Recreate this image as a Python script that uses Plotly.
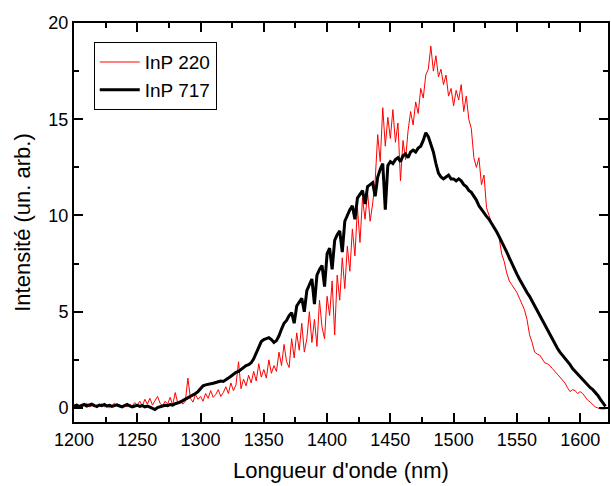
import plotly.graph_objects as go

# Wavelength grid (nm), 2 nm step from 1200 to 1620
wavelength = list(range(1200, 1622, 2))

# InP 220 (red) intensities
inp220 = [
    0.05, 0.20, 0.10, 0.00, 0.15, 0.25, 0.05, 0.10, 0.20, 0.00,
    0.10, 0.22, 0.05, 0.15, 0.00, 0.12, 0.25, 0.08, 0.18, 0.02,
    0.12, 0.05, 0.20, 0.10, 0.28, 0.15, 0.35, 0.10, 0.45, 0.20,
    0.50, 0.15, 0.40, 0.60, 0.25, 0.10, 0.35, 0.20, 0.55, 0.15,
    0.80, 0.25, 0.40, 0.20, 0.35, 1.55, 0.50, 0.30, 0.70, 0.45,
    0.60, 0.35, 0.75, 0.50, 0.90, 0.55, 0.70, 0.95, 0.60, 0.80,
    1.10, 0.75, 1.30, 0.90, 1.20, 2.40, 1.00, 1.50, 1.15, 1.70,
    1.30, 1.90, 1.40, 2.30, 1.60, 2.00, 1.55, 2.50, 1.80, 2.20,
    1.90, 2.90, 2.20, 3.30, 2.40, 2.10, 3.60, 2.60, 3.90, 3.00,
    4.40, 2.90, 3.60, 5.00, 3.40, 4.60, 3.20, 5.60, 4.20, 3.60,
    5.80, 4.80, 6.60, 3.80, 6.90, 5.60, 7.80, 6.20, 8.40, 7.10,
    9.30, 7.90, 10.40, 8.60, 10.90, 9.80, 11.20, 9.70, 10.60, 11.80,
    14.20, 12.80, 15.60, 13.60, 15.10, 14.00, 15.50, 13.80, 14.80, 11.80,
    13.90, 12.90, 14.40, 15.40, 14.70, 15.90, 15.30, 16.60, 16.10, 17.30,
    17.60, 18.80, 17.50, 18.30, 17.20, 17.60, 16.80, 17.30, 16.20, 16.60,
    15.70, 16.50, 16.00, 16.80, 15.40, 16.20, 15.00, 14.50, 13.00, 12.50,
    13.00, 11.60, 12.10, 10.40, 10.00, 9.60, 9.40, 9.10, 8.80, 8.00,
    7.60, 7.00, 6.60, 6.40, 6.20, 6.00, 5.70, 5.40, 5.10, 4.60,
    3.80, 3.40, 2.90, 2.80, 2.75, 2.55, 2.35, 2.30, 2.20, 2.05,
    1.90, 1.75, 1.60, 1.45, 1.30, 1.05, 0.85, 0.95, 0.90, 0.75,
    0.85, 0.75, 0.55, 0.40, 0.30, 0.15, 0.05, 0.00, -0.05, -0.05,
    -0.05,
]

# InP 717 (black) intensities
inp717 = [
    0.10, 0.15, 0.08, 0.12, 0.18, 0.10, 0.14, 0.20, 0.12, 0.08,
    0.15, 0.12, 0.18, 0.10, 0.14, 0.08, 0.12, 0.16, 0.10, 0.06,
    0.12, 0.18, 0.10, 0.05, 0.10, 0.14, 0.08, 0.12, 0.06, 0.10,
    0.04, 0.00, -0.08, 0.02, 0.08, 0.10, 0.14, 0.12, 0.18, 0.15,
    0.22, 0.25, 0.30, 0.38, 0.45, 0.50, 0.58, 0.65, 0.75, 0.85,
    1.00, 1.15, 1.20, 1.22, 1.25, 1.28, 1.32, 1.35, 1.40, 1.38,
    1.45, 1.55, 1.65, 1.75, 1.85, 1.90, 2.00, 2.10, 2.20, 2.25,
    2.35, 2.55, 2.85, 3.20, 3.45, 3.55, 3.60, 3.65, 3.55, 3.40,
    3.50, 3.75, 4.10, 4.40, 4.55, 4.80, 4.95, 4.40, 5.30, 5.50,
    5.70, 5.00, 6.10, 6.40, 6.70, 5.40, 6.90, 7.20, 7.40, 6.30,
    8.00, 8.30, 7.20, 8.70, 9.00, 9.20, 8.10, 9.70, 10.00, 10.30,
    10.50, 9.80, 10.90, 11.10, 11.30, 10.60, 11.50, 11.60, 11.70, 11.00,
    12.00, 12.40, 12.70, 10.30, 12.60, 12.80, 12.70, 12.90, 13.00, 12.80,
    13.10, 13.20, 13.00, 13.30, 13.40, 13.30, 13.50, 13.60, 13.90, 14.30,
    14.10, 13.70, 13.30, 12.70, 12.20, 12.00, 11.90, 12.00, 12.10, 11.90,
    11.90, 11.80, 11.90, 11.80, 11.60, 11.50, 11.30, 11.20, 11.00, 10.80,
    10.50, 10.30, 10.10, 9.95, 9.80, 9.60, 9.40, 9.15, 8.90, 8.65,
    8.40, 8.10, 7.80, 7.50, 7.20, 6.95, 6.70, 6.45, 6.20, 6.00,
    5.80, 5.55, 5.30, 5.05, 4.80, 4.55, 4.30, 4.05, 3.80, 3.55,
    3.30, 3.10, 2.90, 2.75, 2.60, 2.45, 2.25, 2.05, 1.90, 1.75,
    1.60, 1.45, 1.30, 1.15, 1.05, 0.95, 0.82, 0.65, 0.45, 0.25,
    0.08,
]

x_ticks = [1200, 1250, 1300, 1350, 1400, 1450, 1500, 1550, 1600]
y_ticks = [0, 5, 10, 15, 20]

FONT = "Liberation Sans, Arial, sans-serif"

fig = go.Figure()
fig.add_trace(go.Scatter(x=wavelength, y=inp220, mode="lines", name="InP 220",
                         line=dict(color="#FF0000", width=1)))
fig.add_trace(go.Scatter(x=wavelength, y=inp717, mode="lines", name="InP 717",
                         line=dict(color="#000000", width=3)))

axis_common = dict(
    showline=True, linecolor="black", linewidth=2, mirror="ticks",
    ticks="inside", ticklen=9, tickwidth=2, tickcolor="black",
    showgrid=False, zeroline=False,
    tickfont=dict(family=FONT, size=18, color="black"),
)

fig.update_xaxes(
    range=[1200, 1622], tickvals=x_ticks,
    minor=dict(ticks="inside", ticklen=5, tickwidth=2, dtick=25, tick0=1200, tickcolor="black"),
    title=dict(text="Longueur d'onde (nm)", font=dict(family=FONT, size=22, color="black"), standoff=14),
    **axis_common,
)
fig.update_yaxes(
    range=[-0.73, 20], tickvals=y_ticks,
    minor=dict(ticks="inside", ticklen=5, tickwidth=2, dtick=2.5, tick0=0, tickcolor="black"),
    title=dict(text="Intensité (un. arb.)", font=dict(family=FONT, size=22, color="black"), standoff=12),
    **axis_common,
)

fig.update_layout(
    width=611, height=486,
    margin=dict(l=74, r=1, t=23, b=64),
    paper_bgcolor="white", plot_bgcolor="white",
    legend=dict(x=0.037, y=0.952, xanchor="left", yanchor="top",
                bordercolor="black", borderwidth=1, bgcolor="white",
                font=dict(family=FONT, size=19, color="black"),
                tracegroupgap=0, itemwidth=40),
    showlegend=True,
)

fig.write_html("out.html", config={"displayModeBar": False},
               post_script="document.body.style.margin='0';")
